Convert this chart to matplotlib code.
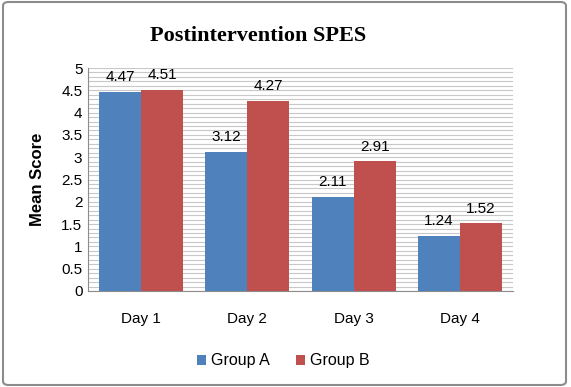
import matplotlib
matplotlib.use("Agg")
import matplotlib.pyplot as plt
import numpy as np
from matplotlib.patches import FancyBboxPatch

days = ["Day 1", "Day 2", "Day 3", "Day 4"]
group_a = [4.47, 3.12, 2.11, 1.24]
group_b = [4.51, 4.27, 2.91, 1.52]

plt.rcParams['font.family'] = ['Liberation Sans', 'DejaVu Sans']

fig = plt.figure(figsize=(5.71, 3.87), dpi=100)
ax = fig.add_axes([88/571, 1 - 291/387, 425/571, 223/387])

x = np.arange(len(days))
w = 0.395
ba = ax.bar(x - w/2, group_a, w, color="#4F81BD", label="Group A", zorder=3)
bb = ax.bar(x + w/2, group_b, w, color="#C0504D", label="Group B", zorder=3)

for bars, vals in [(ba, group_a), (bb, group_b)]:
    for b, v in zip(bars, vals):
        ax.text(b.get_x() + b.get_width()/2, v + 0.17, f"{v:.2f}", ha="center",
                va="bottom", fontsize=11, zorder=4)

ax.set_xlim(-0.5, 3.5)
ax.set_ylim(0, 5)
ax.set_yticks(np.arange(0, 5.01, 0.5))
ax.set_yticklabels(["0", "0.5", "1", "1.5", "2", "2.5", "3", "3.5", "4", "4.5", "5"])
ax.set_yticks(np.arange(0, 5.01, 0.1), minor=True)
ax.yaxis.grid(True, which="both", color="#C8C8C8", linewidth=0.8, zorder=0)
ax.set_xticks(x)
ax.set_xticklabels(days)
ax.tick_params(axis="both", length=0, labelsize=11, pad=4)
ax.tick_params(axis="y", which="minor", length=0)
ax.tick_params(axis="x", pad=15)
for s in ["top", "right"]:
    ax.spines[s].set_visible(False)
for s in ["left", "bottom"]:
    ax.spines[s].set_color("#8C8C8C")
ax.set_ylabel("Mean Score", fontsize=12, fontweight="bold", labelpad=12)

fig.text(0.452, 1 - 36/387, "Postintervention SPES", ha="center", va="center",
         fontsize=16, fontweight="bold", family="Liberation Serif")

fig.legend(handles=[ba, bb], loc="center", bbox_to_anchor=(0.496, 1 - 361/387),
           ncol=2, frameon=False, fontsize=11.5, handlelength=0.6, handleheight=0.6,
           columnspacing=1.6, handletextpad=0.3)

border = FancyBboxPatch((3/571, 2/387), 563/571, 383/387, boxstyle="round,pad=0,rounding_size=0.01",
                        transform=fig.transFigure, fill=False, edgecolor="#8C8C8C", linewidth=1.5)
fig.patches.append(border)

fig.savefig("out.png", dpi=100)
